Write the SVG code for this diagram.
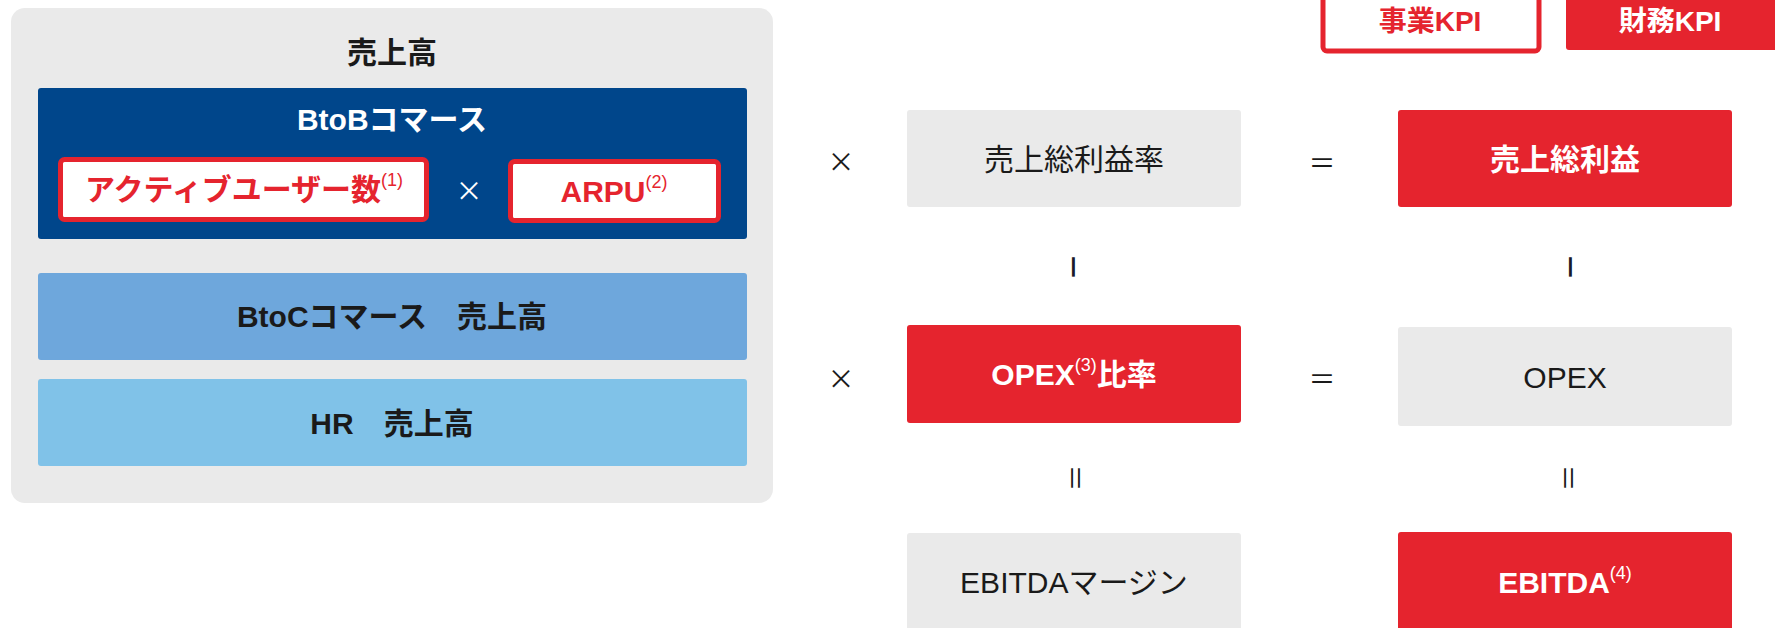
<svg xmlns="http://www.w3.org/2000/svg" width="1775" height="628" viewBox="0 0 1775 628">
<style>
text{font-family:"Liberation Sans","Noto Sans CJK JP",sans-serif;text-anchor:middle;dominant-baseline:central}
.b{font-weight:bold}
.t30{font-size:30px}
.t28{font-size:28px}
.dark{fill:#1a1a1a}
.white{fill:#ffffff}
.red{fill:#e5242e}
.sup{font-size:18px;font-weight:normal}
.gray{fill:#eaeaea}
.redbox{fill:#e5242e}
.op{font-family:"Noto Sans CJK JP",sans-serif;font-size:27px;fill:#1a1a1a}
.minus{font-family:"Liberation Sans",sans-serif;font-size:40px;fill:#1a1a2a}
</style>
<g id="panel-sales">
<rect x="11" y="8" width="762" height="495" rx="14" fill="#eaeaea"/>
<text x="392" y="52" class="b t30 dark">売上高</text>
</g>
<g id="node-btob">
<rect x="38" y="88" width="709" height="151" rx="3" fill="#00468b"/>
<text x="392" y="119" class="b t30 white">BtoBコマース</text>
</g>
<g id="node-active-users">
<rect x="60.5" y="159.5" width="366" height="60" rx="4" fill="#ffffff" stroke="#e5242e" stroke-width="5"/>
<text x="244" y="189" class="b t30 red">アクティブユーザー数<tspan class="sup" dy="-9">(1)</tspan></text>
</g>
<text x="469" y="189" class="op" style="fill:#ffffff">×</text>
<g id="node-arpu">
<rect x="510.5" y="161.5" width="208" height="59" rx="4" fill="#ffffff" stroke="#e5242e" stroke-width="5"/>
<text x="614" y="191" class="b t30 red">ARPU<tspan class="sup" dy="-9">(2)</tspan></text>
</g>
<g id="node-btoc">
<rect x="38" y="273" width="709" height="87" rx="3" fill="#6ea7dc"/>
<text x="392" y="316" class="b t30 dark">BtoCコマース　売上高</text>
</g>
<g id="node-hr">
<rect x="38" y="379" width="709" height="87" rx="3" fill="#80c2e8"/>
<text x="392" y="423" class="b t30 dark">HR　売上高</text>
</g>
<g id="legend-business-kpi">
<rect x="1323" y="-4" width="216" height="55" rx="4" fill="#ffffff" stroke="#e5242e" stroke-width="5"/>
<text x="1430" y="21" class="b t28 red">事業KPI</text>
</g>
<g id="legend-finance-kpi">
<rect x="1566" y="-4" width="215" height="54" rx="3" fill="#e5242e"/>
<text x="1670" y="21" class="b t28 white">財務KPI</text>
</g>
<g id="node-gross-margin-rate">
<rect x="907" y="110" width="334" height="97" rx="3" class="gray"/>
<text x="1074" y="159" class="t30 dark">売上総利益率</text>
</g>
<g id="node-gross-profit">
<rect x="1398" y="110" width="334" height="97" rx="3" class="redbox"/>
<text x="1565" y="159" class="b t30 white">売上総利益</text>
</g>
<g id="node-opex-rate">
<rect x="907" y="325" width="334" height="98" rx="3" class="redbox"/>
<text x="1074" y="374" class="b t30 white">OPEX<tspan class="sup" dy="-9">(3)</tspan><tspan class="b t30" dy="9">比率</tspan></text>
</g>
<g id="node-opex">
<rect x="1398" y="327" width="334" height="99" rx="3" class="gray"/>
<text x="1565" y="377" class="t30 dark">OPEX</text>
</g>
<g id="node-ebitda-margin">
<rect x="907" y="533" width="334" height="100" rx="3" class="gray"/>
<text x="1074" y="582" class="t30 dark">EBITDAマージン</text>
</g>
<g id="node-ebitda">
<rect x="1398" y="532" width="334" height="101" rx="3" class="redbox"/>
<text x="1565" y="582" class="b t30 white">EBITDA<tspan class="sup" dy="-9">(4)</tspan></text>
</g>
<g id="connectors">
<text x="841" y="160" class="op">×</text>
<text x="1322" y="161" class="op">＝</text>
<text x="841" y="377" class="op">×</text>
<text x="1322" y="377" class="op">＝</text>
<text x="1074" y="267" class="minus" transform="rotate(90 1074 267)">−</text>
<text x="1571" y="267" class="minus" transform="rotate(90 1571 267)">−</text>
<text x="1076" y="478" class="op" transform="rotate(90 1076 478)">＝</text>
<text x="1569" y="478" class="op" transform="rotate(90 1569 478)">＝</text>
</g>
</svg>
